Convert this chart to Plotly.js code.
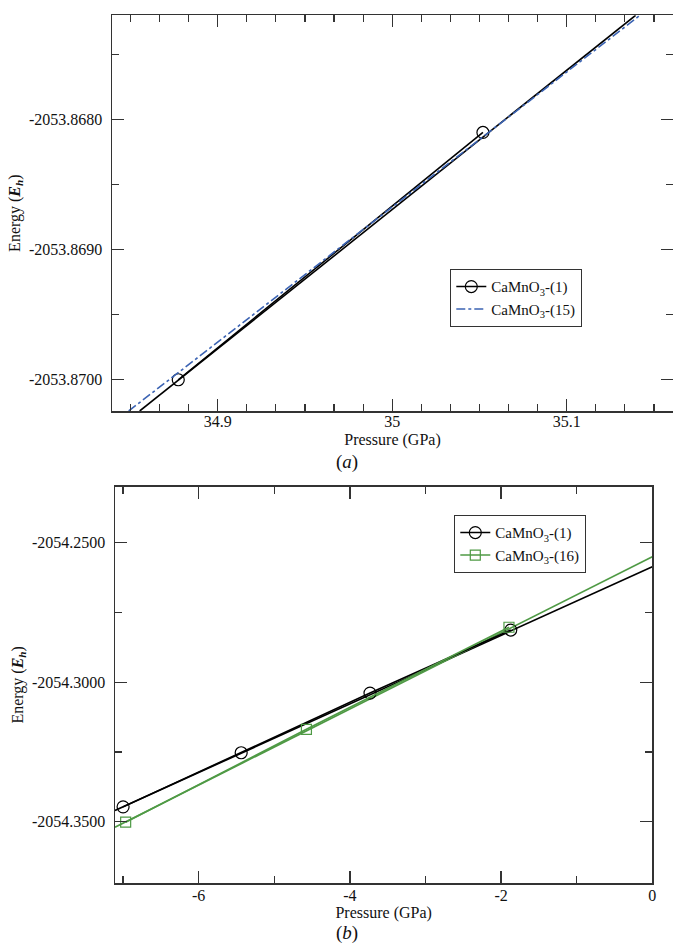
<!DOCTYPE html>
<html>
<head>
<meta charset="utf-8">
<script src="https://cdn.plot.ly/plotly-3.0.1.min.js"></script>
<style>html,body{margin:0;padding:0;background:#fff;}#chart{width:673px;height:949px;}</style>
</head>
<body>
<div id="chart"></div>
<script>
// ---- Panel (a): CaMnO3-(1) vs CaMnO3-(15) ----
const a_pressure_pts = [34.8774, 35.052];
const a_energy_pts = [-2053.8700, -2053.8681];
const a_fit1_pressure = [34.8553, 35.1395];
const a_fit1_energy = [-2053.87024, -2053.86720];
const a_fit15_pressure = [34.849, 35.142];
const a_fit15_energy = [-2053.87024, -2053.86720];
const a_xticks = [34.9, 35, 35.1];
const a_xticktext = ["34.9", "35", "35.1"];
const a_yticks = [-2053.868, -2053.869, -2053.870];
const a_yticktext = ["-2053.8680", "-2053.8690", "-2053.8700"];

// ---- Panel (b): CaMnO3-(1) vs CaMnO3-(16) ----
const b_pressure1 = [-7.0, -5.438, -3.734, -1.872];
const b_energy1 = [-2054.3447, -2054.3253, -2054.3039, -2054.2813];
const b_fit1_pressure = [-7.107, 0];
const b_fit1_energy = [-2054.3460, -2054.2586];
const b_pressure16 = [-6.966, -4.575, -1.896];
const b_energy16 = [-2054.3502, -2054.3169, -2054.2803];
const b_fit16_pressure = [-7.107, 0];
const b_fit16_energy = [-2054.3520, -2054.2550];
const b_xticks = [-6, -4, -2, 0];
const b_xticktext = ["-6", "-4", "-2", "0"];
const b_yticks = [-2054.25, -2054.30, -2054.35];
const b_yticktext = ["-2054.2500", "-2054.3000", "-2054.3500"];

const FONT = "'Liberation Serif', 'Times New Roman', Times, serif";
const BLACK = "#000000";
const BLUE = "#3b63b3";
const GREEN = "#4f9a45";

const traces = [
  {x: a_fit1_pressure, y: a_fit1_energy, xaxis: "x", yaxis: "y", mode: "lines",
   line: {color: BLACK, width: 1.6}, showlegend: false, hoverinfo: "skip"},
  {x: a_pressure_pts, y: a_energy_pts, xaxis: "x", yaxis: "y", mode: "lines+markers",
   name: "CaMnO<sub>3</sub>-(1)", legend: "legend",
   line: {color: BLACK, width: 1.6},
   marker: {symbol: "circle-open", size: 12, color: BLACK, line: {width: 1.2, color: BLACK}}},
  {x: a_fit15_pressure, y: a_fit15_energy, xaxis: "x", yaxis: "y", mode: "lines",
   name: "CaMnO<sub>3</sub>-(15)", legend: "legend",
   line: {color: BLUE, width: 1.6, dash: "dashdot"}},

  {x: b_fit1_pressure, y: b_fit1_energy, xaxis: "x2", yaxis: "y2", mode: "lines",
   line: {color: BLACK, width: 1.6}, showlegend: false, hoverinfo: "skip"},
  {x: b_fit16_pressure, y: b_fit16_energy, xaxis: "x2", yaxis: "y2", mode: "lines",
   line: {color: GREEN, width: 1.6}, showlegend: false, hoverinfo: "skip"},
  {x: b_pressure1, y: b_energy1, xaxis: "x2", yaxis: "y2", mode: "lines+markers",
   name: "CaMnO<sub>3</sub>-(1)", legend: "legend2",
   line: {color: BLACK, width: 1.6},
   marker: {symbol: "circle-open", size: 12, color: BLACK, line: {width: 1.2, color: BLACK}}},
  {x: b_pressure16, y: b_energy16, xaxis: "x2", yaxis: "y2", mode: "lines+markers",
   name: "CaMnO<sub>3</sub>-(16)", legend: "legend2",
   line: {color: GREEN, width: 1.6},
   marker: {symbol: "square-open", size: 10, color: GREEN, line: {width: 1.2, color: GREEN}}}
];

function axisBase() {
  return {
    showline: true, linecolor: "#333", linewidth: 1.5, mirror: "ticks",
    ticks: "inside", ticklen: 12, tickwidth: 1.3, tickcolor: "#333",
    showgrid: false, zeroline: false, tickmode: "array",
    tickfont: {family: FONT, size: 16, color: "#111"}
  };
}

const layout = {
  width: 673, height: 949,
  margin: {l: 0, r: 0, t: 0, b: 0},
  paper_bgcolor: "#fff", plot_bgcolor: "#fff",
  font: {family: FONT, color: "#111"},
  xaxis: Object.assign(axisBase(), {
    domain: [112/673, 1.0], anchor: "y",
    range: [34.83943, 35.16092],
    tickvals: a_xticks, ticktext: a_xticktext, ticklabelstandoff: -5,
    minor: {dtick: 0.1/6, tick0: 34.9, ticks: "inside", ticklen: 7, tickwidth: 1.2, tickcolor: "#333", showgrid: false},
    title: {text: "Pressure (GPa)", font: {family: FONT, size: 16}, standoff: 5}
  }),
  yaxis: Object.assign(axisBase(), {
    domain: [1 - 411/949, 1 - 15.3/949], anchor: "x",
    range: [-2053.87024, -2053.86720],
    tickvals: a_yticks, ticktext: a_yticktext, ticklabelstandoff: 5,
    minor: {dtick: 0.0005, ticks: "inside", ticklen: 7, tickwidth: 1.2, tickcolor: "#333", showgrid: false},
    title: {text: "Energy (<b><i>E<sub>h</sub></i></b>)", font: {family: FONT, size: 16}, standoff: 4}
  }),
  xaxis2: Object.assign(axisBase(), {
    domain: [115/673, 652.3/673], anchor: "y2",
    range: [-7.107, 0],
    tickvals: b_xticks, ticktext: b_xticktext, ticklabelstandoff: -3,
    minor: {dtick: 1, ticks: "inside", ticklen: 7, tickwidth: 1.2, tickcolor: "#333", showgrid: false},
    title: {text: "Pressure (GPa)", font: {family: FONT, size: 16}, standoff: 4}
  }),
  yaxis2: Object.assign(axisBase(), {
    domain: [1 - 883/949, 1 - 486.7/949], anchor: "x2",
    range: [-2054.372, -2054.2299],
    tickvals: b_yticks, ticktext: b_yticktext, ticklabelstandoff: 5,
    minor: {dtick: 0.025, ticks: "inside", ticklen: 7, tickwidth: 1.2, tickcolor: "#333", showgrid: false},
    title: {text: "Energy (<b><i>E<sub>h</sub></i></b>)", font: {family: FONT, size: 16}, standoff: 4}
  }),
  legend: {x: 450/673, y: 1 - 269/949, xanchor: "left", yanchor: "top",
    bgcolor: "#fff", bordercolor: "#333", borderwidth: 1.3,
    font: {family: FONT, size: 15, color: "#111"}, itemwidth: 30, tracegroupgap: 0},
  legend2: {x: 454/673, y: 1 - 515/949, xanchor: "left", yanchor: "top",
    bgcolor: "#fff", bordercolor: "#333", borderwidth: 1.3,
    font: {family: FONT, size: 15, color: "#111"}, itemwidth: 30, tracegroupgap: 0},
  annotations: [
    {text: "(<i>a</i>)", xref: "paper", yref: "paper", x: 347/673, y: 1 - 462/949,
     showarrow: false, xanchor: "center", yanchor: "middle", font: {family: FONT, size: 19, color: "#111"}},
    {text: "(<i>b</i>)", xref: "paper", yref: "paper", x: 347/673, y: 1 - 933/949,
     showarrow: false, xanchor: "center", yanchor: "middle", font: {family: FONT, size: 19, color: "#111"}}
  ],
  showlegend: true
};

Plotly.newPlot("chart", traces, layout, {displayModeBar: false, staticPlot: true});
</script>
</body>
</html>
